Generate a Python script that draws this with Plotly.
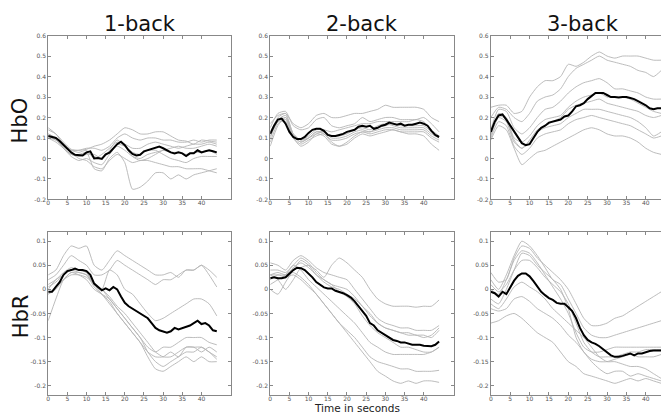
import plotly.graph_objects as go

# time axes
t_mean = list(range(0, 45))
t_sub = list(range(0, 45, 2))

col_titles = ["1-back", "2-back", "3-back"]
row_titles = ["HbO", "HbR"]

# ---------------- HbO ----------------
hbo1_mean = [0.11, 0.105, 0.10, 0.085, 0.065, 0.05, 0.03, 0.018, 0.016, 0.015, 0.03, 0.035, 0.0, 0.002, -0.002,
             0.02, 0.028, 0.05, 0.07, 0.082, 0.065, 0.04, 0.022, 0.015, 0.018, 0.035, 0.04, 0.045, 0.05, 0.058,
             0.05, 0.04, 0.03, 0.025, 0.03, 0.025, 0.012, 0.025, 0.025, 0.04, 0.03, 0.035, 0.04, 0.035, 0.03]
hbo1_subj = [
    [0.14, 0.12, 0.08, 0.045, 0.04, 0.045, 0.06, 0.07, 0.09, 0.12, 0.15, 0.14, 0.12, 0.12, 0.13, 0.13, 0.11, 0.09, 0.085, 0.07, 0.09, 0.085, 0.08],
    [0.15, 0.12, 0.07, 0.04, 0.04, 0.05, 0.05, 0.04, 0.06, 0.1, 0.12, 0.1, 0.09, 0.1, 0.1, 0.09, 0.09, 0.08, 0.08, 0.09, 0.08, 0.09, 0.09],
    [0.12, 0.10, 0.05, 0.02, 0.01, 0.03, -0.05, -0.06, 0.0, 0.03, -0.02, -0.15, -0.14, -0.11, -0.07, -0.07, -0.1, -0.08, -0.1, -0.08, -0.07, -0.06, -0.05],
    [0.11, 0.09, 0.06, 0.03, 0.0, -0.01, -0.04, -0.05, -0.01, 0.02, 0.0, -0.02, -0.01, -0.01, -0.02, -0.03, -0.04, -0.04, -0.05, -0.05, -0.05, -0.06, -0.07],
    [0.10, 0.08, 0.05, 0.02, 0.02, 0.03, 0.01, 0.0, 0.03, 0.07, 0.06, 0.03, 0.02, 0.04, 0.04, 0.02, 0.0, -0.01, -0.02, 0.0, 0.01, 0.01, 0.01],
    [0.12, 0.10, 0.07, 0.04, 0.03, 0.04, 0.0, 0.02, 0.05, 0.08, 0.07, 0.05, 0.05, 0.07, 0.08, 0.07, 0.06, 0.05, 0.06, 0.07, 0.07, 0.08, 0.07],
    [0.10, 0.09, 0.05, 0.01, -0.01, 0.0, -0.02, -0.03, 0.02, 0.06, 0.04, 0.01, 0.0, 0.02, 0.03, 0.04, 0.05, 0.06, 0.05, 0.05, 0.06, 0.07, 0.06],
    [0.11, 0.10, 0.06, 0.03, 0.01, 0.02, 0.02, 0.0, 0.04, 0.09, 0.06, 0.01, -0.01, 0.0, 0.02, 0.04, 0.03, 0.03, 0.02, 0.03, 0.03, 0.04, 0.02],
]

hbo2_mean = [0.12, 0.16, 0.19, 0.195, 0.17, 0.13, 0.105, 0.095, 0.095, 0.105, 0.125, 0.14, 0.145, 0.145, 0.135,
             0.115, 0.11, 0.11, 0.115, 0.12, 0.13, 0.135, 0.14, 0.155, 0.16, 0.155, 0.16, 0.145, 0.15, 0.16,
             0.165, 0.175, 0.17, 0.165, 0.17, 0.16, 0.165, 0.165, 0.17, 0.175, 0.17, 0.16, 0.135, 0.115, 0.105]
hbo2_subj = [
    [0.17, 0.21, 0.22, 0.17, 0.15, 0.17, 0.21, 0.22, 0.2, 0.2, 0.21, 0.22, 0.22, 0.23, 0.24, 0.26, 0.25, 0.25, 0.25, 0.25, 0.24, 0.2, 0.18],
    [0.15, 0.22, 0.23, 0.16, 0.14, 0.15, 0.19, 0.2, 0.16, 0.15, 0.16, 0.17, 0.2, 0.18, 0.19, 0.2, 0.2, 0.19, 0.19, 0.19, 0.2, 0.17, 0.13],
    [0.12, 0.2, 0.22, 0.12, 0.09, 0.11, 0.14, 0.14, 0.13, 0.14, 0.15, 0.16, 0.17, 0.17, 0.18, 0.18, 0.18, 0.18, 0.18, 0.19, 0.18, 0.14, 0.11],
    [0.1, 0.18, 0.18, 0.1, 0.07, 0.09, 0.11, 0.12, 0.09, 0.09, 0.1, 0.12, 0.13, 0.13, 0.14, 0.15, 0.15, 0.14, 0.14, 0.14, 0.14, 0.11, 0.09],
    [0.08, 0.17, 0.19, 0.1, 0.06, 0.08, 0.12, 0.11, 0.07, 0.06, 0.07, 0.1, 0.12, 0.11, 0.12, 0.13, 0.14, 0.13, 0.13, 0.13, 0.13, 0.1, 0.08],
    [0.06, 0.16, 0.2, 0.11, 0.08, 0.1, 0.13, 0.12, 0.08, 0.06, 0.08, 0.11, 0.13, 0.12, 0.13, 0.14, 0.14, 0.13, 0.12, 0.12, 0.11, 0.07, 0.04],
    [0.13, 0.19, 0.21, 0.12, 0.09, 0.1, 0.12, 0.13, 0.1, 0.1, 0.11, 0.13, 0.14, 0.13, 0.15, 0.16, 0.17, 0.16, 0.16, 0.16, 0.16, 0.13, 0.1],
    [0.11, 0.18, 0.2, 0.11, 0.08, 0.1, 0.13, 0.13, 0.11, 0.11, 0.12, 0.14, 0.15, 0.14, 0.16, 0.17, 0.16, 0.15, 0.15, 0.15, 0.15, 0.12, 0.1],
]

hbo3_mean = [0.13, 0.18, 0.21, 0.215, 0.19, 0.16, 0.13, 0.1, 0.075, 0.065, 0.07, 0.1, 0.13, 0.15, 0.16,
             0.175, 0.18, 0.185, 0.19, 0.205, 0.21, 0.23, 0.255, 0.26, 0.27, 0.29, 0.305, 0.32, 0.32, 0.32,
             0.31, 0.3, 0.3, 0.298, 0.3, 0.3, 0.295, 0.29, 0.28, 0.27, 0.26, 0.245, 0.24, 0.245, 0.245]
hbo3_subj = [
    [0.25, 0.26, 0.26, 0.22, 0.23, 0.3, 0.35, 0.38, 0.38, 0.4, 0.46, 0.45, 0.47, 0.5, 0.52, 0.5, 0.49, 0.5, 0.5, 0.5, 0.49, 0.48, 0.48],
    [0.2, 0.25, 0.24, 0.2, 0.18, 0.22, 0.28, 0.3, 0.31, 0.34, 0.4, 0.44, 0.46, 0.48, 0.5, 0.48, 0.47, 0.46, 0.45, 0.43, 0.42, 0.4, 0.43],
    [0.14, 0.24, 0.23, 0.15, 0.12, 0.15, 0.2, 0.24, 0.25, 0.28, 0.32, 0.35, 0.37, 0.38, 0.39, 0.37, 0.34, 0.34, 0.33, 0.32, 0.3, 0.29, 0.29],
    [0.12, 0.22, 0.2, 0.1, 0.08, 0.11, 0.16, 0.19, 0.2, 0.21, 0.25, 0.28, 0.3, 0.31, 0.32, 0.3, 0.3, 0.3, 0.29, 0.27, 0.25, 0.23, 0.22],
    [0.11, 0.2, 0.18, 0.08, 0.05, 0.08, 0.13, 0.15, 0.16, 0.17, 0.2, 0.22, 0.24, 0.24, 0.24, 0.23, 0.22, 0.21, 0.2, 0.18, 0.15, 0.11, 0.13],
    [0.1, 0.18, 0.16, 0.06, 0.02, 0.05, 0.1, 0.12, 0.13, 0.14, 0.17, 0.19, 0.2, 0.21, 0.2, 0.19, 0.18, 0.17, 0.16, 0.14, 0.12, 0.1, 0.11],
    [0.09, 0.16, 0.14, 0.05, -0.03, 0.0, 0.03, 0.04, 0.06, 0.08, 0.1, 0.12, 0.14, 0.15, 0.14, 0.12, 0.11, 0.11, 0.1, 0.08, 0.05, 0.03, 0.02],
    [0.13, 0.21, 0.19, 0.09, 0.05, 0.09, 0.14, 0.16, 0.18, 0.2, 0.24, 0.26, 0.27, 0.28, 0.29, 0.27, 0.26, 0.25, 0.24, 0.23, 0.21, 0.2, 0.21],
]

# ---------------- HbR ----------------
hbr1_mean = [-0.005, -0.005, 0.005, 0.015, 0.03, 0.038, 0.04, 0.043, 0.04, 0.04, 0.038, 0.03, 0.012, 0.005, -0.002,
             0.002, -0.002, 0.005, 0.0, -0.015, -0.028, -0.035, -0.04, -0.045, -0.05, -0.055, -0.06, -0.07, -0.08, -0.085,
             -0.087, -0.09, -0.087, -0.08, -0.083, -0.08, -0.077, -0.075, -0.07, -0.065, -0.072, -0.07, -0.075, -0.085, -0.087]
hbr1_subj = [
    [0.03, 0.04, 0.07, 0.09, 0.085, 0.09, 0.05, 0.04, 0.06, 0.08, 0.07, 0.06, 0.05, 0.04, 0.03, 0.03, 0.035, 0.025, 0.04, 0.04, 0.05, 0.04, 0.025],
    [0.02, 0.03, 0.05, 0.07, 0.06, 0.05, 0.03, 0.03, 0.04, 0.06, 0.05, 0.04, 0.03, 0.02, 0.01, 0.02, 0.02, 0.03, 0.04, 0.04, 0.05, 0.03, 0.005],
    [0.0, 0.02, 0.03, 0.04, 0.035, 0.03, 0.01, 0.0, 0.04, 0.03, 0.0, -0.01, -0.03, -0.05, -0.065, -0.06, -0.05, -0.04, -0.03, -0.02, -0.02, -0.03, -0.055],
    [-0.065, -0.02, 0.02, 0.035, 0.03, 0.02, 0.0, -0.01, -0.02, -0.04, -0.06, -0.08, -0.1, -0.13, -0.15, -0.16, -0.15, -0.14, -0.13, -0.13, -0.12, -0.13, -0.145],
    [-0.01, 0.005, 0.02, 0.03, 0.03, 0.025, 0.01, -0.01, -0.025, -0.05, -0.07, -0.09, -0.11, -0.14, -0.165, -0.17, -0.16, -0.15, -0.14, -0.15, -0.14, -0.15, -0.15],
    [0.005, 0.015, 0.03, 0.04, 0.04, 0.035, 0.01, 0.0, -0.02, -0.04, -0.06, -0.08, -0.1, -0.12, -0.13, -0.12, -0.12, -0.11, -0.1, -0.1, -0.1, -0.11, -0.115],
    [-0.01, 0.0, 0.02, 0.035, 0.035, 0.03, 0.005, -0.01, -0.03, -0.05, -0.07, -0.09, -0.11, -0.13, -0.14, -0.14, -0.13, -0.14, -0.12, -0.12, -0.13, -0.12, -0.13],
    [0.01, 0.02, 0.035, 0.045, 0.04, 0.035, 0.01, 0.0, -0.015, -0.035, -0.05, -0.07, -0.09, -0.11, -0.13, -0.14, -0.14, -0.13, -0.12, -0.12, -0.12, -0.13, -0.14],
]

hbr2_mean = [0.023, 0.025, 0.023, 0.023, 0.025, 0.033, 0.04, 0.045, 0.044, 0.04, 0.033, 0.025, 0.015, 0.01, 0.004,
             0.002, 0.002, -0.003, -0.005, -0.008, -0.012, -0.017, -0.025, -0.035, -0.045, -0.055, -0.07, -0.075, -0.085, -0.09,
             -0.095, -0.1, -0.105, -0.107, -0.11, -0.11, -0.113, -0.115, -0.115, -0.115, -0.117, -0.118, -0.118, -0.115, -0.108]
hbr2_subj = [
    [0.03, 0.02, 0.0, 0.02, 0.045, 0.05, 0.04, 0.025, 0.05, 0.065, 0.055, 0.04, 0.025, 0.0, -0.02, -0.03, -0.035, -0.035, -0.035, -0.037, -0.035, -0.035, -0.022],
    [0.055, 0.05, 0.04, 0.06, 0.07, 0.06, 0.045, 0.035, 0.03, 0.025, 0.02, 0.0, -0.02, -0.04, -0.06, -0.07, -0.075, -0.08, -0.08, -0.085, -0.085, -0.085, -0.075],
    [0.04, 0.04, 0.035, 0.05, 0.065, 0.055, 0.035, 0.02, 0.01, 0.005, 0.0, -0.015, -0.035, -0.05, -0.07, -0.08, -0.085, -0.09, -0.095, -0.095, -0.1, -0.095, -0.08],
    [0.0, -0.01, 0.015, 0.04, 0.06, 0.05, 0.03, 0.02, 0.01, -0.005, -0.015, -0.03, -0.055, -0.075, -0.09, -0.1, -0.11, -0.12, -0.12, -0.125, -0.13, -0.13, -0.12],
    [0.01, 0.02, 0.03, 0.05, 0.04, 0.02, 0.005, -0.01, -0.025, -0.04, -0.055, -0.07, -0.09, -0.11, -0.12, -0.13, -0.135, -0.135, -0.135, -0.135, -0.135, -0.13, -0.12],
    [0.02, 0.03, 0.025, 0.03, 0.02, 0.005, -0.01, -0.03, -0.05, -0.07, -0.085, -0.1, -0.12, -0.14, -0.15, -0.155, -0.16, -0.165, -0.165, -0.17, -0.17, -0.17, -0.168],
    [0.03, 0.035, 0.03, 0.035, 0.025, 0.01, -0.01, -0.03, -0.05, -0.07, -0.09, -0.11, -0.13, -0.15, -0.17, -0.18, -0.19, -0.195, -0.19, -0.195, -0.19, -0.19, -0.193],
    [0.03, 0.03, 0.03, 0.045, 0.055, 0.045, 0.03, 0.015, 0.005, 0.0, -0.01, -0.02, -0.035, -0.055, -0.07, -0.08, -0.085, -0.09, -0.09, -0.095, -0.095, -0.1, -0.085],
]

hbr3_mean = [-0.005, -0.008, -0.015, -0.005, -0.01, 0.005, 0.018, 0.028, 0.033, 0.033, 0.027, 0.017, 0.005, -0.005, -0.012,
             -0.018, -0.022, -0.028, -0.03, -0.03, -0.037, -0.045, -0.06, -0.08, -0.095, -0.105, -0.11, -0.113, -0.118, -0.125,
             -0.13, -0.137, -0.14, -0.14, -0.138, -0.135, -0.133, -0.137, -0.133, -0.133, -0.13, -0.128, -0.127, -0.127, -0.127]
hbr3_subj = [
    [0.035, 0.015, 0.02, 0.065, 0.09, 0.085, 0.065, 0.05, 0.035, 0.02, 0.0, -0.03, -0.06, -0.075, -0.075, -0.07, -0.06, -0.055, -0.045, -0.035, -0.025, -0.015, -0.005],
    [0.02, 0.0, 0.03, 0.07, 0.1, 0.09, 0.07, 0.045, 0.02, 0.01, -0.02, -0.05, -0.08, -0.095, -0.1, -0.1, -0.095, -0.09, -0.085, -0.08, -0.075, -0.07, -0.065],
    [0.0, -0.01, 0.02, 0.06, 0.08, 0.075, 0.055, 0.03, 0.005, -0.02, -0.05, -0.09, -0.12, -0.13, -0.13, -0.125, -0.12, -0.12, -0.12, -0.12, -0.12, -0.12, -0.12],
    [-0.02, -0.03, 0.0, 0.04, 0.075, 0.07, 0.05, 0.035, 0.02, 0.0, -0.04, -0.1, -0.13, -0.145, -0.15, -0.15, -0.145, -0.14, -0.135, -0.14, -0.14, -0.14, -0.135],
    [-0.03, -0.04, -0.02, 0.005, 0.015, 0.005, -0.005, -0.02, -0.04, -0.055, -0.07, -0.085, -0.1, -0.12, -0.14, -0.15, -0.15, -0.155, -0.16, -0.16, -0.165, -0.175, -0.185],
    [-0.04, -0.045, -0.04, -0.02, -0.015, -0.025, -0.04, -0.05, -0.06, -0.075, -0.095, -0.11, -0.13, -0.15, -0.165, -0.175, -0.17, -0.17, -0.18, -0.175, -0.18, -0.185, -0.19],
    [-0.07, -0.065, -0.055, -0.05, -0.06, -0.075, -0.09, -0.1, -0.11, -0.13, -0.15, -0.16, -0.175, -0.18, -0.185, -0.19, -0.195, -0.19, -0.185, -0.19, -0.185, -0.19, -0.195],
    [0.01, -0.005, 0.01, 0.04, 0.06, 0.06, 0.045, 0.025, 0.01, -0.005, -0.03, -0.07, -0.11, -0.13, -0.14, -0.14, -0.14, -0.135, -0.13, -0.13, -0.125, -0.125, -0.125],
]

panels = [
    (hbo1_subj, hbo1_mean), (hbo2_subj, hbo2_mean), (hbo3_subj, hbo3_mean),
    (hbr1_subj, hbr1_mean), (hbr2_subj, hbr2_mean), (hbr3_subj, hbr3_mean),
]

hbo_ticks = [-0.2, -0.1, 0, 0.1, 0.2, 0.3, 0.4, 0.5, 0.6]
hbo_ticktext = ["-0.2", "-0.1", "0", "0.1", "0.2", "0.3", "0.4", "0.5", "0.6"]
hbr_ticks = [-0.2, -0.15, -0.1, -0.05, 0, 0.05, 0.1]
hbr_ticktext = ["-0.2", "-0.15", "-0.1", "-0.05", "0", "0.05", "0.1"]
x_ticks = [0, 5, 10, 15, 20, 25, 30, 35, 40]

W, H = 669, 413
col_px = [(38.3, 222.0), (261.0, 445.0), (482.3, 668.0)]
row_px = [(24.0, 190.7), (223.3, 390.0)]

fig = go.Figure()
layout = dict(
    width=W, height=H, margin=dict(l=0, r=0, t=0, b=0),
    paper_bgcolor="white", plot_bgcolor="white", showlegend=False,
    font=dict(family="DejaVu Sans", color="#333"),
)

axis_common = dict(
    showgrid=False, zeroline=False, showline=True, linecolor="#888", linewidth=1,
    mirror="allticks", ticks="inside", ticklen=3, tickcolor="#888",
    tickfont=dict(size=6, color="#555", family="DejaVu Sans"),
)

for i, (subj, mean) in enumerate(panels):
    r, c = divmod(i, 3)
    n = i + 1
    xa = "x" if n == 1 else f"x{n}"
    ya = "y" if n == 1 else f"y{n}"
    for s in subj:
        fig.add_trace(go.Scatter(x=t_sub, y=s, mode="lines", xaxis=xa, yaxis=ya,
                                 line=dict(color="#b4b4b4", width=0.9, shape="spline", smoothing=0.6),
                                 hoverinfo="skip"))
    fig.add_trace(go.Scatter(x=t_mean, y=mean, mode="lines", xaxis=xa, yaxis=ya,
                             line=dict(color="black", width=2)))
    x0, x1 = col_px[c]
    y0, y1 = row_px[r]
    layout[f"xaxis{'' if n == 1 else n}"] = dict(
        axis_common, domain=[x0 / W, x1 / W], range=[0, 47.8],
        tickvals=x_ticks, anchor=ya, ticklabelstandoff=-3)
    if r == 0:
        yr, tv, tt = [-0.2, 0.6], hbo_ticks, hbo_ticktext
    else:
        yr, tv, tt = [-0.22, 0.12], hbr_ticks, hbr_ticktext
    layout[f"yaxis{'' if n == 1 else n}"] = dict(
        axis_common, domain=[1 - y1 / H, 1 - y0 / H], range=yr,
        tickvals=tv, ticktext=tt, anchor=xa, ticklabelstandoff=0)

annotations = []
for c, title in enumerate(col_titles):
    x0, x1 = col_px[c]
    annotations.append(dict(text=title, x=(x0 + x1) / 2 / W, y=1 - 12 / H, xref="paper", yref="paper",
                            showarrow=False, font=dict(size=21, color="#111", family="DejaVu Sans"),
                            xanchor="center", yanchor="middle"))
for r, title in enumerate(row_titles):
    y0, y1 = row_px[r]
    annotations.append(dict(text=title, x=11 / W, y=1 - ((y0 + y1) / 2 + 3) / H, xref="paper", yref="paper",
                            showarrow=False, textangle=-90, font=dict(size=21, color="#111", family="DejaVu Sans"),
                            xanchor="center", yanchor="middle"))
annotations.append(dict(text="Time in seconds", x=348 / W, y=1 - 402.5 / H, xref="paper", yref="paper",
                        showarrow=False, font=dict(size=10.5, color="#222", family="DejaVu Sans"),
                        xanchor="center", yanchor="middle"))
layout["annotations"] = annotations

fig.update_layout(**layout)
fig.write_html("out.html")
